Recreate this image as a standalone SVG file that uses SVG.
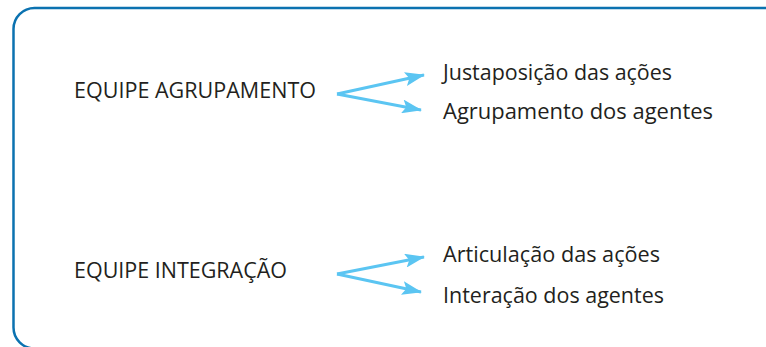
<svg xmlns="http://www.w3.org/2000/svg" width="766" height="347" viewBox="0 0 766 347">
<style>
.t{font-family:"Open Sans","Noto Sans",sans-serif;font-size:21px;fill:#231f20}
.c{stroke:#5bc5f2;stroke-width:3;fill:none}
</style>
<defs>
<marker id="a" viewBox="0 0 20 14" refX="19" refY="7" markerWidth="20" markerHeight="14" markerUnits="userSpaceOnUse" orient="auto"><path d="M0,0 L20,7 L0,14 L4,7 Z" fill="#5bc5f2"/></marker>
</defs>
<rect x="13.5" y="8" width="772" height="340.5" rx="21" fill="#fff" stroke="#0b72b0" stroke-width="2.5"/>
<g id="n1"><text class="t" x="74" y="97.5" textLength="242" lengthAdjust="spacingAndGlyphs">EQUIPE AGRUPAMENTO</text></g>
<g id="n2"><text class="t" x="443" y="80" textLength="229" lengthAdjust="spacingAndGlyphs">Justaposição das ações</text></g>
<g id="n3"><text class="t" x="443" y="119" textLength="270" lengthAdjust="spacingAndGlyphs">Agrupamento dos agentes</text></g>
<g id="n4"><text class="t" x="74" y="277.5" textLength="213" lengthAdjust="spacingAndGlyphs">EQUIPE INTEGRAÇÃO</text></g>
<g id="n5"><text class="t" x="443" y="262" textLength="217" lengthAdjust="spacingAndGlyphs">Articulação das ações</text></g>
<g id="n6"><text class="t" x="443" y="303" textLength="221" lengthAdjust="spacingAndGlyphs">Interação dos agentes</text></g>
<g id="connectors">
<path class="c" d="M337,94 L424,75" marker-end="url(#a)"/>
<path class="c" d="M337,94 L421,110" marker-end="url(#a)"/>
<path class="c" d="M337,274 L424,257" marker-end="url(#a)"/>
<path class="c" d="M337,274 L421,292" marker-end="url(#a)"/>
</g>
</svg>
